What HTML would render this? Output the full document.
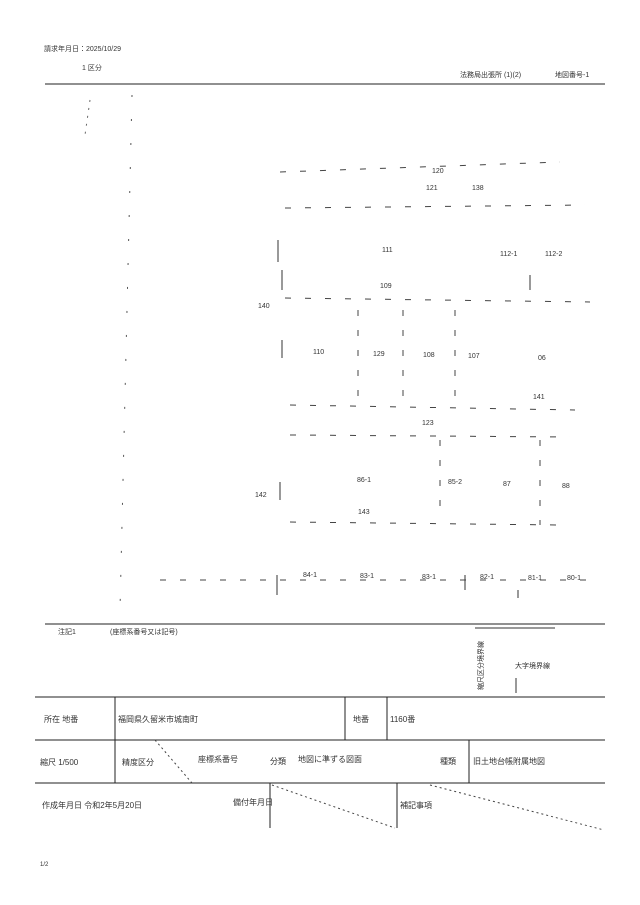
<!DOCTYPE html>
<html><head><meta charset="utf-8"><style>
body{margin:0;background:#fff}
svg{display:block}
text{font-family:"Liberation Sans","Noto Sans CJK JP",sans-serif;fill:#333}
</style></head><body>
<svg width="640" height="905" viewBox="0 0 640 905" xmlns="http://www.w3.org/2000/svg">
<g font-size="7">
<text x="44" y="51">請求年月日：2025/10/29</text>
<text x="82" y="70">1 区分</text>
<text x="460" y="77">法務局出張所 (1)(2)</text>
<text x="555" y="77">地図番号-1</text>
</g>
<line x1="45" y1="84" x2="605" y2="84" stroke="#222" stroke-width="1"/>
<line x1="45" y1="624" x2="605" y2="624" stroke="#222" stroke-width="1"/>
<!-- left dashed line -->
<line x1="132" y1="95" x2="120" y2="610" stroke="#555" stroke-width="1" stroke-dasharray="2,22"/>
<line x1="90" y1="100" x2="85" y2="135" stroke="#666" stroke-dasharray="2,6"/>
<g stroke="#333" stroke-width="1" fill="none">
<line x1="278" y1="240" x2="278" y2="262"/>
<line x1="282" y1="270" x2="282" y2="290"/>
<line x1="282" y1="340" x2="282" y2="358"/>
<line x1="280" y1="482" x2="280" y2="500"/>
<line x1="277" y1="575" x2="277" y2="595"/>
<line x1="530" y1="275" x2="530" y2="290"/>
<line x1="465" y1="575" x2="465" y2="590"/>
<line x1="518" y1="590" x2="518" y2="598"/>
</g>
<g stroke="#444" stroke-width="1" stroke-dasharray="6,14">
<line x1="280" y1="172" x2="560" y2="162"/>
<line x1="285" y1="208" x2="585" y2="205"/>
<line x1="285" y1="298" x2="590" y2="302"/>
<line x1="290" y1="405" x2="575" y2="410"/>
<line x1="290" y1="435" x2="570" y2="437"/>
<line x1="290" y1="522" x2="560" y2="525"/>
<line x1="160" y1="580" x2="600" y2="580"/>
<line x1="358" y1="310" x2="358" y2="400"/>
<line x1="403" y1="310" x2="403" y2="400"/>
<line x1="455" y1="310" x2="455" y2="400"/>
<line x1="440" y1="440" x2="440" y2="520"/>
<line x1="540" y1="440" x2="540" y2="525"/>
</g>
<g font-size="7">
<text x="432" y="173">120</text><text x="426" y="190">121</text><text x="472" y="190">138</text>
<text x="382" y="252">111</text><text x="500" y="256">112-1</text><text x="545" y="256">112-2</text>
<text x="380" y="288">109</text><text x="258" y="308">140</text>
<text x="313" y="354">110</text><text x="373" y="356">129</text><text x="423" y="357">108</text><text x="468" y="358">107</text><text x="538" y="360">06</text>
<text x="533" y="399">141</text><text x="422" y="425">123</text>
<text x="357" y="482">86-1</text><text x="448" y="484">85-2</text><text x="503" y="486">87</text><text x="562" y="488">88</text>
<text x="255" y="497">142</text><text x="358" y="514">143</text>
<text x="303" y="577">84-1</text><text x="360" y="578">83-1</text><text x="422" y="579">83-1</text><text x="480" y="579">82-1</text><text x="528" y="580">81-1</text><text x="567" y="580">80-1</text>
<text x="58" y="634">注記1</text><text x="110" y="634">(座標系番号又は記号)</text>
</g>
<!-- right legend -->
<line x1="475" y1="628" x2="555" y2="628" stroke="#333"/>
<line x1="516" y1="678" x2="516" y2="693" stroke="#333"/>
<text x="483" y="690" font-size="7" transform="rotate(-90 483 690)">縮尺区分境界線</text>
<text x="515" y="668" font-size="7">大字境界線</text>
<!-- table -->
<g stroke="#222" stroke-width="1" fill="none">
<line x1="35" y1="697" x2="605" y2="697"/>
<line x1="35" y1="740" x2="605" y2="740"/>
<line x1="35" y1="783" x2="605" y2="783"/>
<line x1="115" y1="697" x2="115" y2="783"/>
<line x1="345" y1="697" x2="345" y2="740"/>
<line x1="387" y1="697" x2="387" y2="740"/>
<line x1="469" y1="740" x2="469" y2="783"/>
<line x1="270" y1="783" x2="270" y2="828"/>
<line x1="397" y1="783" x2="397" y2="828"/>
</g>
<g stroke="#444" stroke-dasharray="2,3">
<line x1="155" y1="740" x2="192" y2="783"/>
<line x1="272" y1="785" x2="395" y2="828"/>
<line x1="430" y1="785" x2="604" y2="830"/>
</g>
<g font-size="8">
<text x="44" y="722">所在 地番</text><text x="118" y="722">福岡県久留米市城南町</text>
<text x="353" y="722">地番</text><text x="390" y="722">1160番</text>
<text x="40" y="765">縮尺 1/500</text><text x="122" y="765">精度区分</text>
<text x="198" y="762">座標系番号</text><text x="270" y="764">分類</text><text x="298" y="762">地図に準ずる図面</text>
<text x="440" y="764">種類</text><text x="473" y="764">旧土地台帳附属地図</text>
<text x="42" y="808">作成年月日 令和2年5月20日</text>
<text x="233" y="805">備付年月日</text><text x="400" y="808">補記事項</text>
<text x="40" y="866" font-size="6">1/2</text>
</g>
</svg>
</body></html>
